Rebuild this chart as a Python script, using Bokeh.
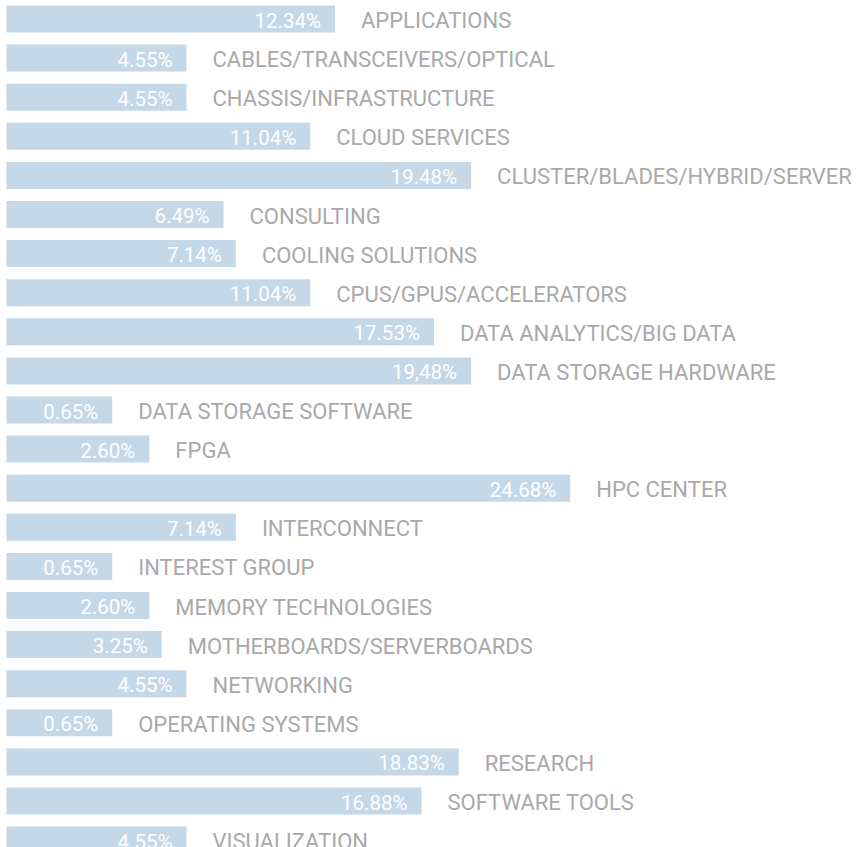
from bokeh.plotting import figure
from bokeh.models import ColumnDataSource, Range1d
from bokeh.embed import file_html
from bokeh.resources import INLINE
from bokeh.core.properties import value as pv

categories = [
    "APPLICATIONS", "CABLES/TRANSCEIVERS/OPTICAL", "CHASSIS/INFRASTRUCTURE",
    "CLOUD SERVICES", "CLUSTER/BLADES/HYBRID/SERVER", "CONSULTING",
    "COOLING SOLUTIONS", "CPUS/GPUS/ACCELERATORS", "DATA ANALYTICS/BIG DATA",
    "DATA STORAGE HARDWARE", "DATA STORAGE SOFTWARE", "FPGA", "HPC CENTER",
    "INTERCONNECT", "INTEREST GROUP", "MEMORY TECHNOLOGIES",
    "MOTHERBOARDS/SERVERBOARDS", "NETWORKING", "OPERATING SYSTEMS",
    "RESEARCH", "SOFTWARE TOOLS", "VISUALIZATION",
]
values = [12.34, 4.55, 4.55, 11.04, 19.48, 6.49, 7.14, 11.04, 17.53, 19.48,
          0.65, 2.60, 24.68, 7.14, 0.65, 2.60, 3.25, 4.55, 0.65, 18.83, 16.88, 4.55]
pct_labels = ["12.34%", "4.55%", "4.55%", "11.04%", "19.48%", "6.49%", "7.14%",
              "11.04%", "17.53%", "19,48%", "0.65%", "2.60%", "24.68%", "7.14%",
              "0.65%", "2.60%", "3.25%", "4.55%", "0.65%", "18.83%", "16.88%", "4.55%"]

W, H = 866, 847
ROW_PX = 39.1
PX_PER_UNIT = 19.06
X_START = -4.895                      # data value where bars begin
x0 = X_START - 6 / PX_PER_UNIT         # 6px left gap
x_end = x0 + W / PX_PER_UNIT
y_top = -18.5 / ROW_PX
y_bottom = y_top + H / ROW_PX

p = figure(width=W, height=H, x_range=Range1d(x0, x_end),
           y_range=Range1d(y_bottom, y_top), output_backend="svg",
           toolbar_location=None, min_border=0)
p.axis.visible = False
p.grid.visible = False
p.outline_line_color = None
p.background_fill_color = "white"
p.border_fill_color = "white"

src = ColumnDataSource(dict(y=list(range(len(categories))), value=values,
                            cat=categories, pct=pct_labels))
p.hbar(y="y", left=X_START, right="value", height=27 / ROW_PX, source=src,
       fill_color="#c4d8e8", line_color=None)
p.text(x="value", y="y", text="pct", x_offset=-14, y_offset=1.5, text_align="right",
       text_baseline="middle", text_color="white", text_font=pv("Roboto"),
       text_font_size="20.5px", source=src)
p.text(x="value", y="y", text="cat", x_offset=26, y_offset=1.5, text_align="left",
       text_baseline="middle", text_color="#a9a9a9", text_font=pv("Roboto"),
       text_font_size="22px", source=src)

open("out.html", "w").write(file_html(p, INLINE))
